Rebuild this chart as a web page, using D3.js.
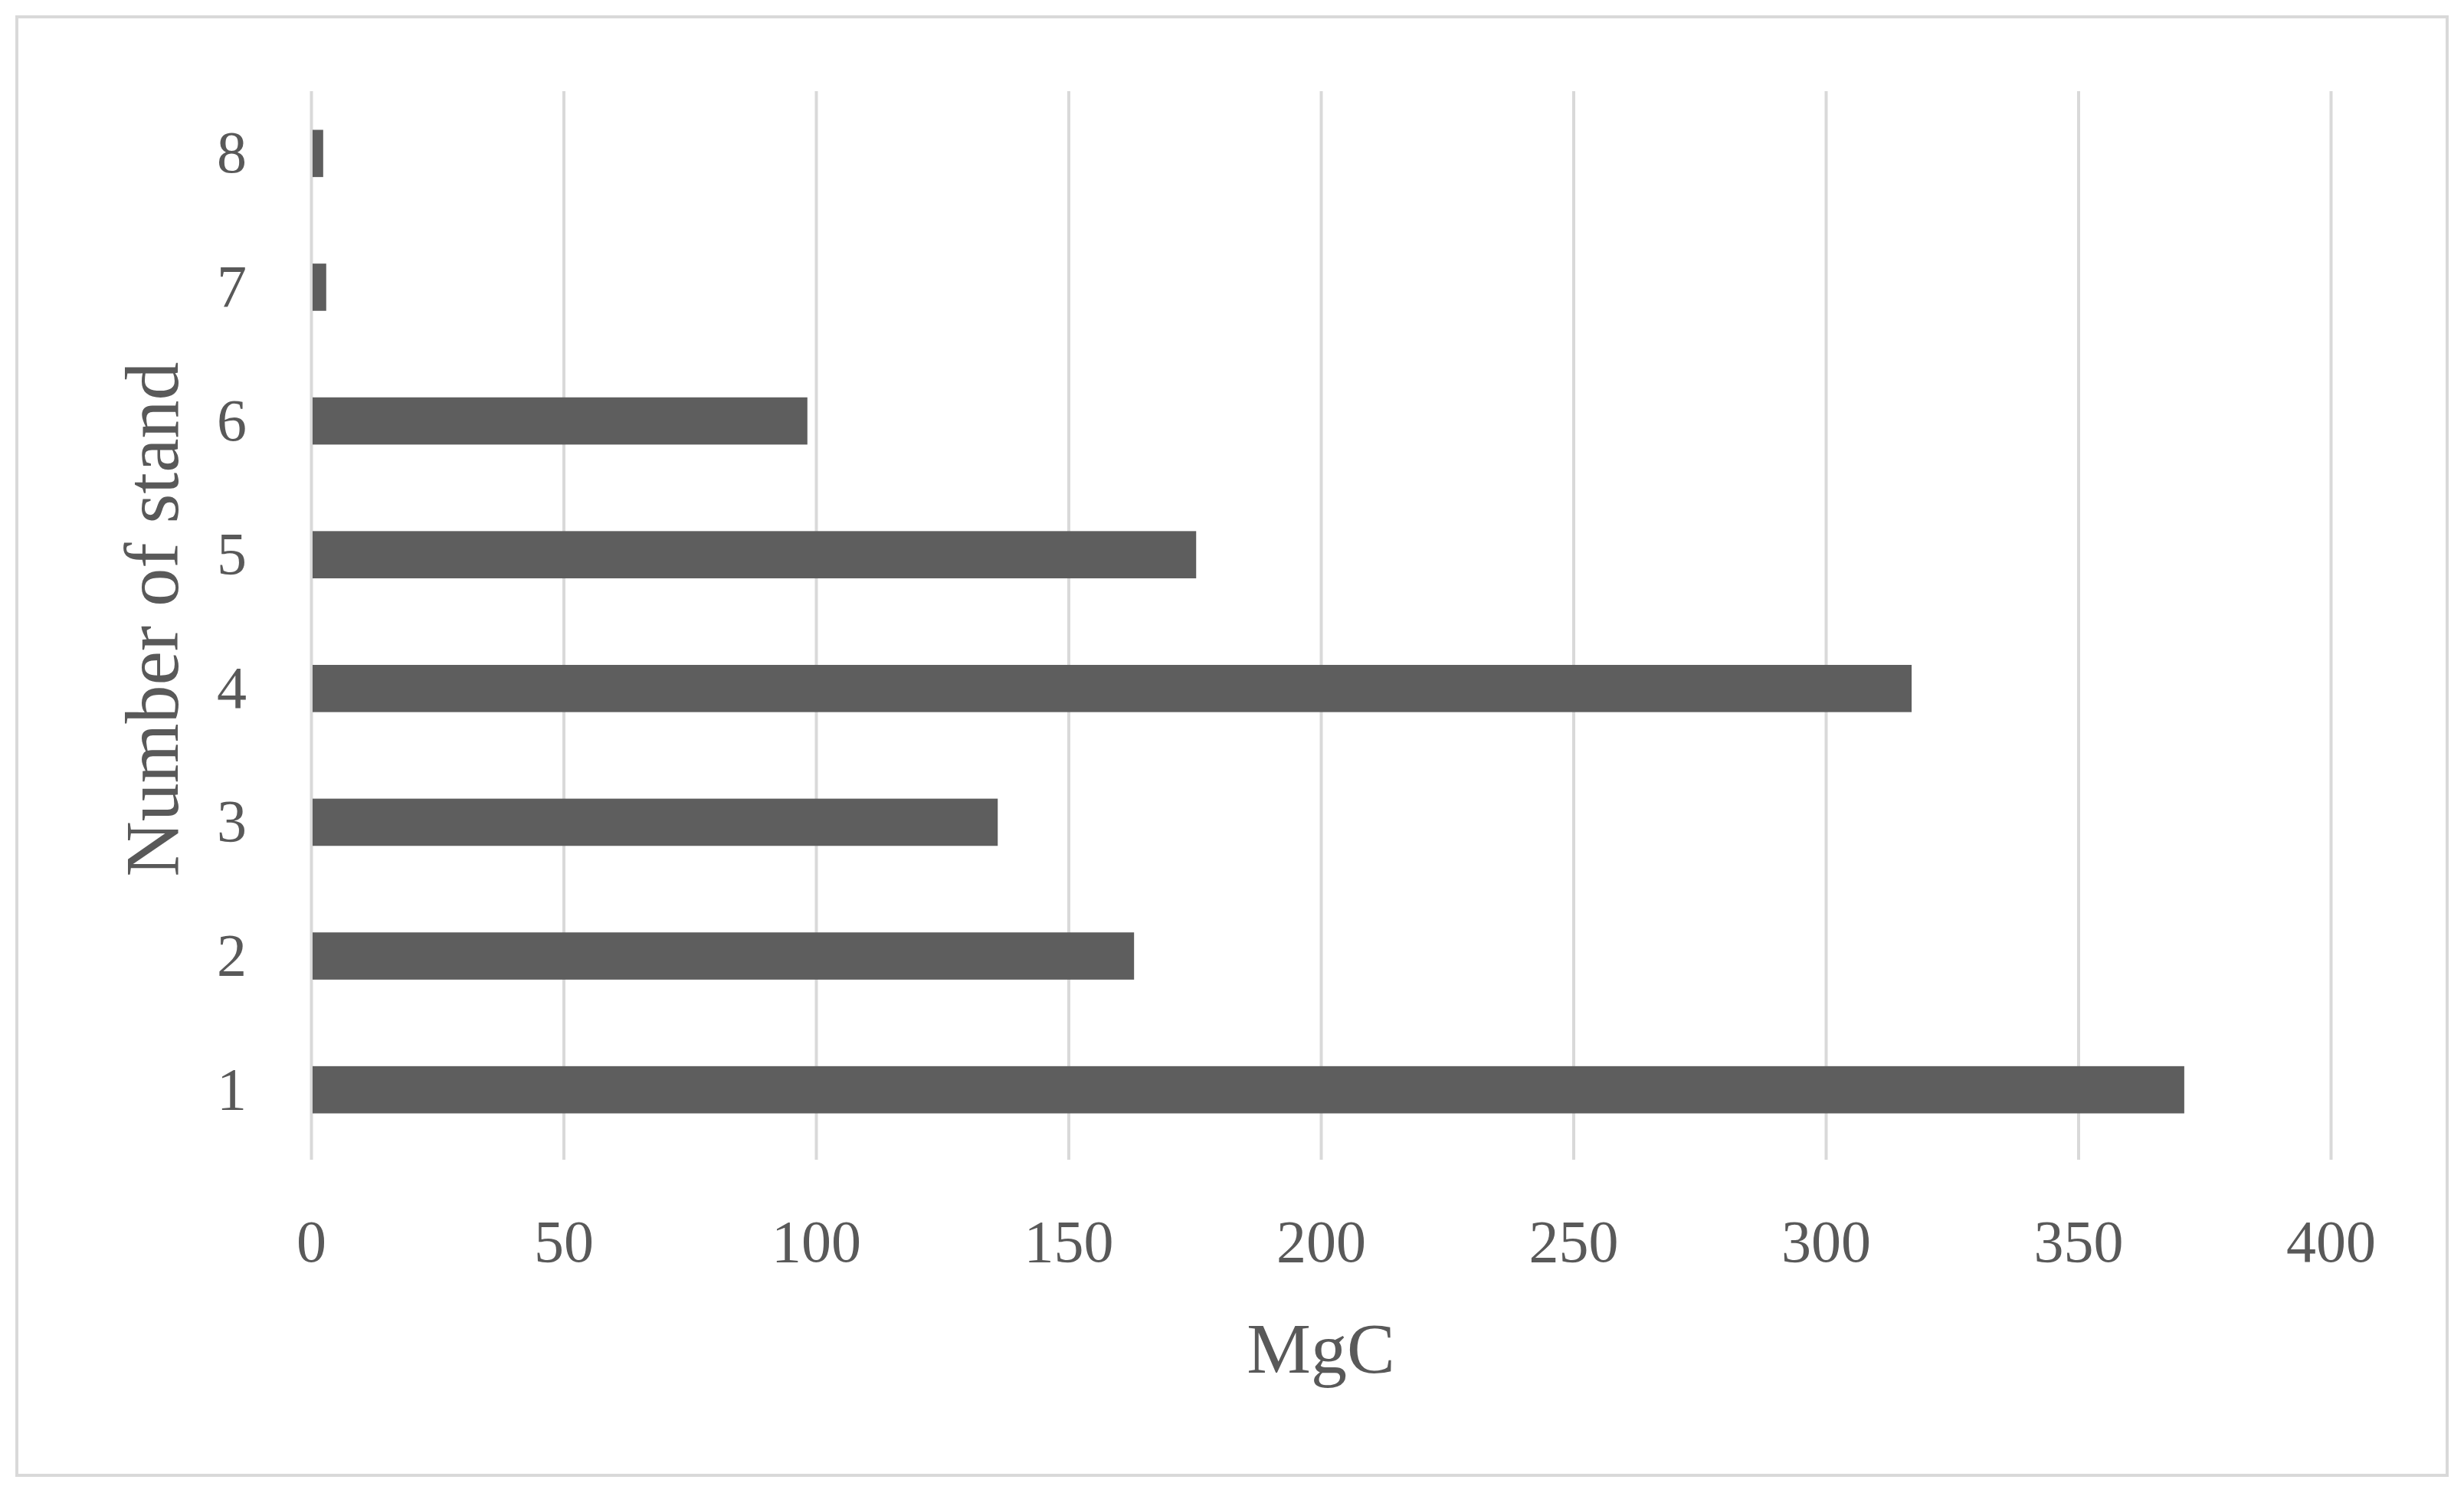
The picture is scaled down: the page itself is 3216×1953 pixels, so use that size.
<!DOCTYPE html>
<html>
<head>
<meta charset="utf-8">
<script src="https://cdn.jsdelivr.net/npm/d3@7"></script>
<style>
  html, body { margin: 0; padding: 0; background: #ffffff; }
  svg { display: block; }
</style>
</head>
<body>
<script>
// ---- data ----
const categories = ["1", "2", "3", "4", "5", "6", "7", "8"];
const values = [371, 163, 136, 317, 175.3, 98.3, 3.0, 2.4];
const xTicks = [0, 50, 100, 150, 200, 250, 300, 350, 400];
const xTitle = "MgC";
const yTitle = "Number of stand";

const W = 3216, H = 1953;
const margin = { left: 406, right: W - 3042, top: 119, bottom: H - 1514 };
const font = "'Liberation Serif', 'Times New Roman', serif";
const textColor = "#595959";

const svg = d3.select("body").append("svg")
  .attr("width", W).attr("height", H);

svg.append("rect").attr("width", W).attr("height", H).attr("fill", "#fff");
svg.append("rect")
  .attr("x", 22).attr("y", 22).attr("width", W - 44).attr("height", 1904)
  .attr("fill", "#fff").attr("stroke", "#d9d9d9").attr("stroke-width", 4);

const x = d3.scaleLinear().domain([0, 400]).range([margin.left, W - margin.right]);
const y = d3.scaleBand().domain(categories.slice().reverse())
  .range([margin.top - 6, H - margin.bottom - 4]).paddingInner(0.647).paddingOuter(0.3235);

// gridlines via axis
const grid = svg.append("g")
  .attr("transform", `translate(0,${H - margin.bottom})`)
  .call(d3.axisBottom(x).tickValues(xTicks).tickSize(-(H - margin.bottom - margin.top)).tickFormat(""));
grid.select(".domain").remove();
grid.selectAll(".tick line").attr("stroke", "#d9d9d9").attr("stroke-width", 4);

// bars
svg.append("g").selectAll("rect")
  .data(categories.map((c, i) => ({ c, v: values[i] })))
  .join("rect")
  .attr("x", x(0) + 2)
  .attr("y", d => y(d.c))
  .attr("width", d => Math.max(0, x(d.v) - x(0) - 2))
  .attr("height", y.bandwidth())
  .attr("fill", "#5e5e5e");

// x axis labels
const xa = svg.append("g")
  .attr("transform", `translate(0,${H - margin.bottom})`)
  .call(d3.axisBottom(x).tickValues(xTicks).tickSize(0).tickPadding(78).tickFormat(d3.format("d")));
xa.select(".domain").remove();
xa.selectAll("text").attr("font-family", font).attr("font-size", 78).attr("fill", textColor);

// y axis labels
const ya = svg.append("g")
  .attr("transform", `translate(${margin.left},0)`)
  .call(d3.axisLeft(y).tickSize(0).tickPadding(84));
ya.select(".domain").remove();
ya.selectAll("text").attr("font-family", font).attr("font-size", 78).attr("fill", textColor);

// axis titles
svg.append("text")
  .attr("x", (margin.left + W - margin.right) / 2).attr("y", 1792)
  .attr("text-anchor", "middle")
  .attr("font-family", font).attr("font-size", 94).attr("fill", textColor)
  .text(xTitle);

svg.append("text")
  .attr("transform", `translate(232,${(margin.top + H - margin.bottom) / 2 - 8}) rotate(-90)`)
  .attr("text-anchor", "middle")
  .attr("font-family", font).attr("font-size", 100).attr("fill", textColor)
  .text(yTitle);
</script>
</body>
</html>
